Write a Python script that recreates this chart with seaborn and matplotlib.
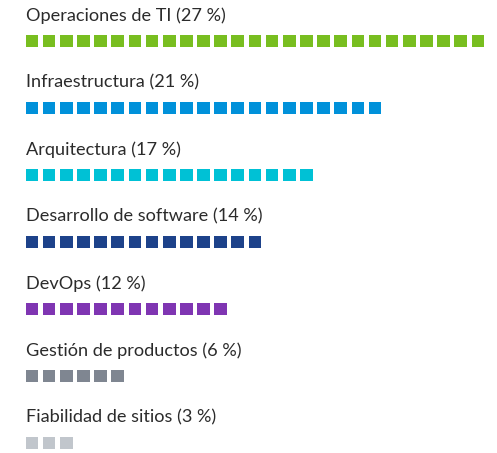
import matplotlib
matplotlib.use("Agg")
import matplotlib.pyplot as plt
import seaborn as sns
import pandas as pd

categories = ["Operaciones de TI", "Infraestructura", "Arquitectura",
              "Desarrollo de software", "DevOps", "Gestión de productos",
              "Fiabilidad de sitios"]
percentages = [27, 21, 17, 14, 12, 6, 3]
colors = ["#78BE20", "#0091DA", "#00C1D5", "#1D428A", "#7F35B2", "#7F8691", "#C1C6CC"]

rows = []
for r, (cat, pct) in enumerate(zip(categories, percentages)):
    for i in range(pct):
        rows.append({"category": cat, "col": i, "row": r})
df = pd.DataFrame(rows)

sns.set_theme(style="white")
plt.rcParams["font.family"] = ["Lato", "DejaVu Sans"]

fig = plt.figure(figsize=(4.97, 4.53), dpi=100)
ax = fig.add_axes([0, 0, 1, 1])

pitch_x = 17.15
pitch_y = 67.0
x0 = 32.0
y0 = 41.0
side_pt = 12.6 * 72 / 100

sns.scatterplot(data=df, x="col", y="row", hue="category", hue_order=categories,
                palette=colors, marker="s", s=side_pt ** 2, linewidth=0,
                legend=False, ax=ax)

ax.set_xlim(-x0 / pitch_x, (497 - x0) / pitch_x)
ax.set_ylim((453 - y0) / pitch_y, -y0 / pitch_y)
ax.set_axis_off()

for r, (cat, pct) in enumerate(zip(categories, percentages)):
    ax.text((26 - x0) / pitch_x, r - 20.3 / pitch_y, f"{cat} ({pct} %)",
            fontsize=13.1, color="#2b2b2b", va="baseline", ha="left")

fig.savefig("out.png", dpi=100)
